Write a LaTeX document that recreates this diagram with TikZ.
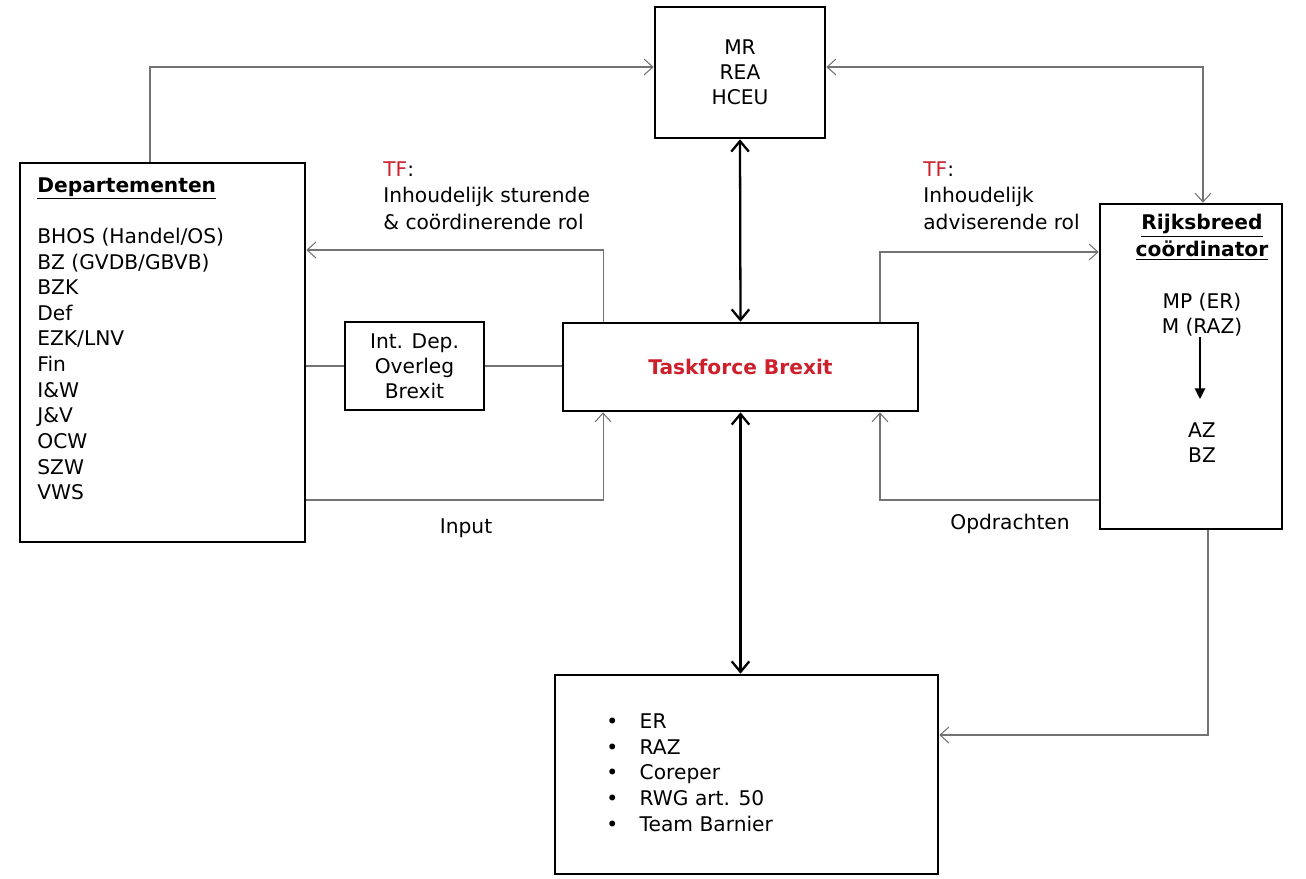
\documentclass[tikz,border=0pt]{standalone}
\usepackage{fontspec}
\setmainfont{DejaVu Sans}
\usetikzlibrary{arrows.meta,positioning}
\definecolor{tfred}{RGB}{205,32,44}
\definecolor{linegray}{RGB}{115,115,115}
\tikzstyle{block} = [rectangle, draw, line width=1.5pt, fill=white, align=center,
    font=\fontsize{11.5}{14.2}\selectfont]
\tikzstyle{plaintext} = [inner sep=0pt, font=\fontsize{11.5}{14.6}\selectfont]
\tikzstyle{flow} = [draw, linegray, line width=0.6pt,
    -{Straight Barb[length=5pt,width=9pt]}]
\tikzstyle{mainflow} = [draw, black, line width=1.3pt,
    {Straight Barb[length=6pt,width=10pt]}-{Straight Barb[length=6pt,width=10pt]}]

\begin{document}
\begin{tikzpicture}[x=0.02cm, y=-0.02cm]
    \useasboundingbox (0,0) rectangle (1306,879);

    \node[block, minimum width=3.4cm, minimum height=2.62cm] (mr) at (740,72.5) {MR\\REA\\HCEU};
    \node[block, minimum width=5.7cm, minimum height=7.58cm] (dept) at (162.5,352.5) {};
    \node[plaintext, align=left, anchor=north west] (deptList) at (37,177)
        {\textbf{\underline{Departementen}}\\[14.6pt]BHOS (Handel/OS)\\BZ (GVDB/GBVB)\\BZK\\Def\\EZK/LNV\\Fin\\I\&W\\J\&V\\OCW\\SZW\\VWS};
    \node[block, minimum width=2.78cm, minimum height=1.76cm] (interDep) at (414.5,366) {Int. Dep.\\Overleg\\Brexit};
    \node[block, minimum width=7.1cm, minimum height=1.76cm] (taskforce) at (740.5,367)
        {\textcolor{tfred}{\bfseries Taskforce Brexit}};
    \node[block, minimum width=3.64cm, minimum height=6.5cm] (rijks) at (1191,366.5) {};
    \node[plaintext, align=center, anchor=north, font=\fontsize{11.5}{15.2}\selectfont] (rijksTitle) at (1202,214)
        {\textbf{\underline{Rijksbreed}}\\\textbf{\underline{coördinator}}};
    \node[plaintext, align=center] (rijksTop) at (1202,314.5) {MP (ER)\\M (RAZ)};
    \node[plaintext, align=center] (rijksBottom) at (1202,442.5) {AZ\\BZ};
    \node[block, minimum width=7.66cm, minimum height=3.98cm] (eu) at (746.5,774.5) {};
    \node[plaintext, align=left, anchor=west] (euList) at (606,772.5)
        {\makebox[19pt][l]{\textbullet}ER\\\makebox[19pt][l]{\textbullet}RAZ\\\makebox[19pt][l]{\textbullet}Coreper\\\makebox[19pt][l]{\textbullet}RWG art. 50\\\makebox[19pt][l]{\textbullet}Team Barnier};

    \node[plaintext, align=left, anchor=north west, font=\fontsize{11.5}{15.2}\selectfont] (tfLeft) at (383,161)
        {\textcolor{tfred}{TF}:\\Inhoudelijk sturende\\\& coördinerende rol};
    \node[plaintext, align=left, anchor=north west, font=\fontsize{11.5}{15.2}\selectfont] (tfRight) at (923,161)
        {\textcolor{tfred}{TF}:\\Inhoudelijk\\adviserende rol};
    \node[plaintext] (input) at (466,528) {Input};
    \node[plaintext] (opdrachten) at (1010,524) {Opdrachten};

    \path[flow] ([xshift=-0.25cm]dept.north) |- ([yshift=0.11cm]mr.west);
    \path[flow, {Straight Barb[length=5pt,width=9pt]}-{Straight Barb[length=5pt,width=9pt]}]
        ([yshift=0.11cm]mr.east) -| ([xshift=0.24cm]rijks.north);
    \path[mainflow] (mr.south) -- (taskforce.north);
    \path[mainflow] (taskforce.south) -- (taskforce.south |- eu.north);

    \path[flow] ([xshift=-2.75cm]taskforce.north) |- ([yshift=2.05cm]dept.east);
    \path[draw, linegray, line width=0.6pt] (dept.east |- interDep.west) -- (interDep.west);
    \path[draw, linegray, line width=0.6pt] (interDep.east) -- (taskforce.west |- interDep.east);
    \path[flow] ([yshift=-2.95cm]dept.east) -| ([xshift=-2.75cm]taskforce.south);

    \path[flow] ([xshift=2.79cm]taskforce.north) |- ([yshift=2.29cm]rijks.west);
    \path[flow] ([yshift=-2.67cm]rijks.west) -| ([xshift=2.79cm]taskforce.south);
    \path[flow] ([xshift=0.34cm]rijks.south) |- ([yshift=0.79cm]eu.east);

    \path[draw, line width=0.6pt, -{Triangle[length=6pt,width=6pt]}]
        ([xshift=-0.04cm]rijksTop.south) -- ([xshift=-0.04cm,yshift=0.46cm]rijksBottom.north);
\end{tikzpicture}
\end{document}
